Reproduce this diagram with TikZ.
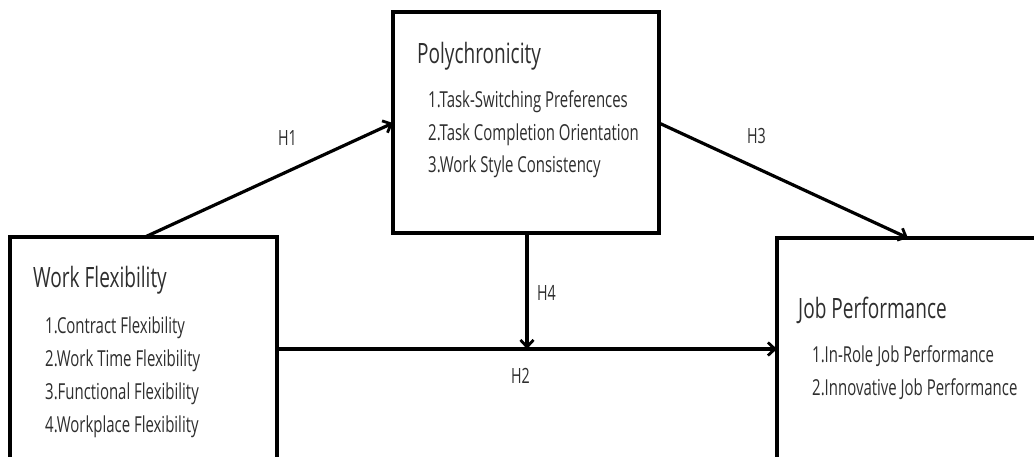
\documentclass[tikz,border=0pt]{standalone}
\usepackage{fontspec}
\setmainfont{Open Sans}[FakeStretch=0.68]
\usetikzlibrary{arrows.meta,calc}
\definecolor{txt}{HTML}{2E2E2E}
\tikzset{
  box/.style={draw=black, line width=3.2pt, rectangle, anchor=north west, inner sep=0pt, outer sep=0pt},
  title/.style={anchor=base west, inner sep=0pt, text=txt, font=\fontsize{28}{30}\selectfont},
  item/.style={anchor=base west, inner sep=0pt, text=txt, font=\fontsize{22}{24}\selectfont},
  hlabel/.style={anchor=base west, inner sep=0pt, text=txt, font=\fontsize{21}{24}\selectfont},
  conn/.style={draw=black, line width=3.2pt, -{Straight Barb[length=7pt,width=13pt,line width=2.8pt]}}
}
\begin{document}
\begin{tikzpicture}[x=1pt,y=-1pt]
\useasboundingbox[fill=white] (0,0) rectangle (1034,456);
\begin{scope}
\clip (0,0) rectangle (1034,456);
% boxes
\node[box, minimum width=267pt, minimum height=240pt] (work) at (10,237) {};
\node[box, minimum width=266pt, minimum height=221pt] (poly) at (393,12) {};
\node[box, minimum width=270pt, minimum height=240pt] (job) at (777,238) {};
\end{scope}
% texts
\node[title] (wt) at (33,287) {Work Flexibility};
\node[item] (w1) at (45,333) {1.Contract Flexibility};
\node[item] (w2) at (45,366) {2.Work Time Flexibility};
\node[item] (w3) at (45,399) {3.Functional Flexibility};
\node[item] (w4) at (45,432) {4.Workplace Flexibility};
\node[title] (pt) at (417,63) {Polychronicity};
\node[item] (p1) at (428,107) {1.Task-Switching Preferences};
\node[item] (p2) at (428,140) {2.Task Completion Orientation};
\node[item] (p3) at (428,172) {3.Work Style Consistency};
\node[title] (jt) at (798,318) {Job Performance};
\node[item] (j1) at (812,362) {1.In-Role Job Performance};
\node[item] (j2) at (812,395) {2.Innovative Job Performance};
% labels
\node[hlabel] (h1) at (278,145) {H1};
\node[hlabel] (h3) at (747,143) {H3};
\node[hlabel] (h4) at (537,300) {H4};
\node[hlabel] (h2) at (511,383) {H2};
% connector points
\coordinate (a1) at ([xshift=135pt]work.north west);
\coordinate (b1) at ([yshift=-111pt]poly.north west);
\coordinate (a3) at ([yshift=-111pt]poly.north east);
\coordinate (b3) at ([xshift=131pt]job.north west);
\coordinate (a2) at ([yshift=-112pt]work.north east);
\coordinate (b2) at ([yshift=-111pt]job.north west);
\coordinate (a4) at ([xshift=134pt]poly.south west);
\coordinate (b4) at (a4 |- a2);
\draw[conn] (a1) -- (b1);
\draw[conn] (a3) -- (b3);
\draw[conn] (a2) -- (b2);
\draw[conn] (a4) -- (b4);
\end{tikzpicture}
\end{document}
